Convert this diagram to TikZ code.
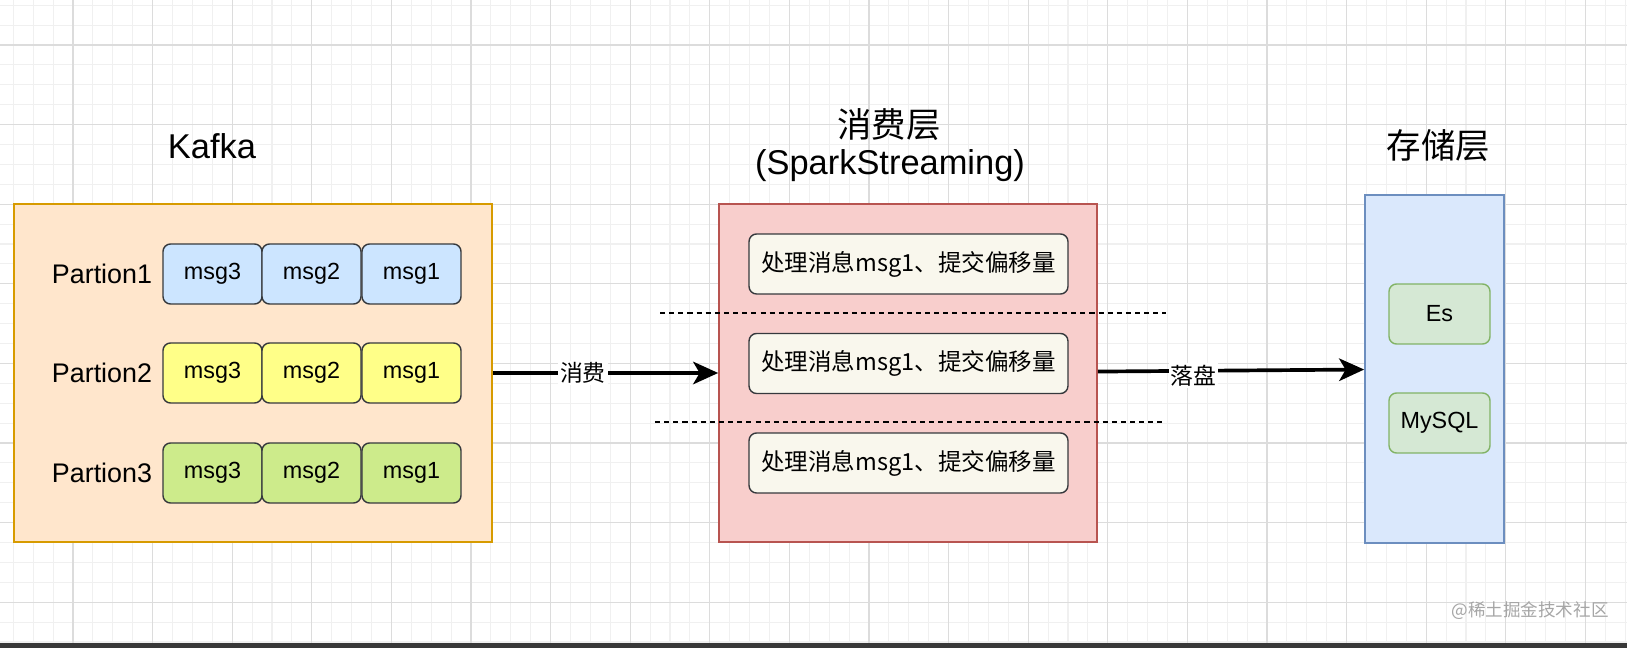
\documentclass[tikz,border=0pt]{standalone}
\usepackage{fontspec}
\setmainfont{Liberation Sans}
\newfontfamily\cjk{Noto Sans CJK SC}
\usetikzlibrary{arrows.meta, positioning}

\definecolor{kafkafill}{HTML}{FFE6CC}
\definecolor{kafkaline}{HTML}{D79B00}
\definecolor{consfill}{HTML}{F8CECC}
\definecolor{consline}{HTML}{B85450}
\definecolor{storefill}{HTML}{DAE8FC}
\definecolor{storeline}{HTML}{6C8EBF}
\definecolor{dbfill}{HTML}{D5E8D4}
\definecolor{dbline}{HTML}{82B366}
\definecolor{msgblue}{HTML}{CCE5FF}
\definecolor{msgyellow}{HTML}{FFFF88}
\definecolor{msggreen}{HTML}{CDEB8B}
\definecolor{taskfill}{HTML}{F9F7ED}
\definecolor{boxline}{HTML}{36393D}
\definecolor{minorgrid}{HTML}{F0F0F0}
\definecolor{majorgrid}{HTML}{DCDCDC}

\begin{document}
\begin{tikzpicture}
        [
            x=0.02cm, y=-0.02cm,
            container/.style={rectangle, line width=1pt, inner sep=0pt},
            msgbox/.style={rectangle, rounded corners=0.15cm, draw=boxline, line width=0.8pt,
                minimum width=1.98cm, minimum height=1.2cm, inner sep=0pt,
                font=\fontsize{13.3}{16}\selectfont},
            task/.style={msgbox, fill=taskfill, minimum width=6.38cm,
                font=\cjk\fontsize{13.4}{16}\selectfont},
            dbbox/.style={msgbox, draw=dbline, fill=dbfill, minimum width=2.02cm},
            plabel/.style={font=\fontsize{15.3}{18}\selectfont, inner sep=0pt},
            title/.style={font=\fontsize{19.6}{24}\selectfont, inner sep=0pt},
            cjktitle/.style={font=\cjk\fontsize{19.6}{24}\selectfont, inner sep=0pt},
            edgelabel/.style={font=\cjk\fontsize{13}{16}\selectfont, fill=white, inner sep=1pt},
            flow/.style={line width=2.1pt, -{Stealth[length=0.5cm, width=0.45cm, inset=0.13cm]}},
            sepline/.style={line width=0.85pt, dash pattern=on 2.9pt off 2.3pt},
        ]
        \useasboundingbox (0,0) rectangle (1627,648);
        \fill[white] (0,0) rectangle (1627,648);
        % background grid
        \foreach \i in {0,...,81}
            \draw[minorgrid, line width=0.6pt] ({13.3+19.9*\i},0) -- ({13.3+19.9*\i},643);
        \foreach \j in {0,...,32}
            \draw[minorgrid, line width=0.6pt] (0,{5.2+19.9*\j}) -- (1627,{5.2+19.9*\j});
        \foreach \i in {0,...,19}
            \draw[majorgrid, line width=0.6pt] ({73+79.6*\i},0) -- ({73+79.6*\i},643);
        \foreach \j in {0,...,7}
            \draw[majorgrid, line width=0.6pt] (0,{45+79.6*\j}) -- (1627,{45+79.6*\j});

        % columns
        \node[container, draw=kafkaline, fill=kafkafill, minimum width=9.56cm, minimum height=6.76cm] (kafka) at (253,373) {};
        \node[container, draw=consline, fill=consfill, minimum width=7.56cm, minimum height=6.76cm] (consumer) at (908,373) {};
        \node[container, draw=storeline, fill=storefill, minimum width=2.78cm, minimum height=6.96cm] (storage) at (1434.5,369) {};

        \node[title] (kafkatitle) at (212,146) {Kafka};
        \node[cjktitle] (constitle) at (889,125) {消费层};
        \node[title] (sparktitle) at (890,166) {(SparkStreaming)};
        \node[cjktitle] (storetitle) at (1438.5,146) {存储层};

        % partitions
        \foreach \r/\ry/\col in {1/274/msgblue, 2/373/msgyellow, 3/473/msggreen}
        {
            \node[plabel] (p\r) at (102,\ry) {Partion\r};
            \foreach \m/\mx in {3/212.5, 2/311.5, 1/411.5}
                \node[msgbox, fill=\col] (m\r\m) at (\mx,\ry) {msg\m};
        }

        % consumer tasks
        \foreach \k/\ky in {1/264, 2/363.5, 3/463}
            \node[task] (t\k) at (908.5,\ky) {处理消息msg1、提交偏移量};
        \draw[sepline] (660,313) -- (1166,313);
        \draw[sepline] (655,422) -- (1162,422);

        % storage
        \node[dbbox] (es) at (1439.5,314) {Es};
        \node[dbbox] (mysql) at (1439.5,423) {MySQL};

        \draw[flow] (kafka) -- node[pos=0.4, edgelabel]{消费} (consumer);
        \draw[flow] (consumer) -- node[pos=0.36, edgelabel, yshift=-0.1cm]{落盘} (storage);

        \node[font=\cjk\fontsize{10}{12}\selectfont, text=black!35, inner sep=0pt] (mark) at (1530,611) {@稀土掘金技术社区};
        \fill[black!78] (0,643) rectangle (1627,648);
      \end{tikzpicture}
\end{document}
